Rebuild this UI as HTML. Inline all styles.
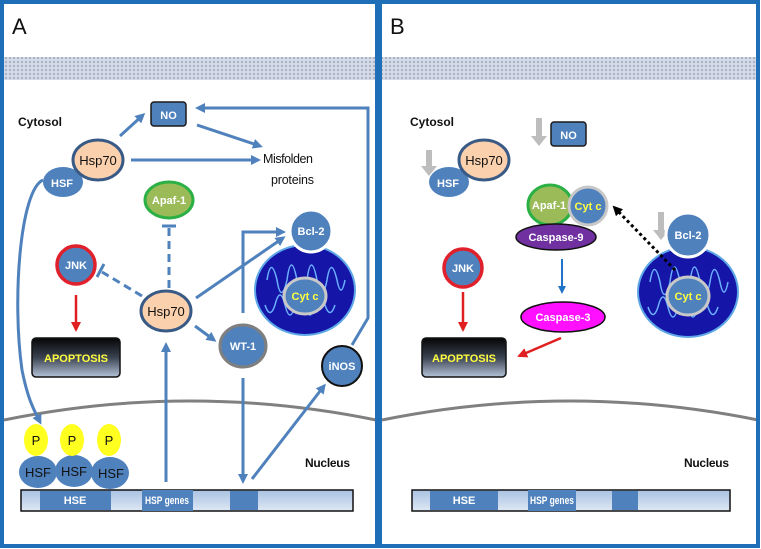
<!DOCTYPE html>
<html><head><meta charset="utf-8"><style>
html,body{margin:0;padding:0;background:#fff;}
svg{display:block;font-family:"Liberation Sans",sans-serif;}
.w{fill:#fff;font-weight:bold;font-size:11px;text-anchor:middle;}
.y{fill:#ffff40;font-weight:bold;font-size:11px;text-anchor:middle;}
.k{fill:#111;font-size:13px;text-anchor:middle;}
.bl{stroke:#4f81bd;stroke-width:3;fill:none;}
</style></head><body>
<svg width="761" height="549" viewBox="0 0 761 549" xmlns="http://www.w3.org/2000/svg">
<defs>
<pattern id="mem" width="4" height="4" patternUnits="userSpaceOnUse">
<rect width="4" height="4" fill="#d6dbe8"/><circle cx="2" cy="2" r="1.2" fill="#a9b1c9"/></pattern>
<linearGradient id="apg" x1="0" y1="0" x2="0" y2="1"><stop offset="0" stop-color="#050505"/><stop offset="0.5" stop-color="#3a4250"/><stop offset="1" stop-color="#b4c3d8"/></linearGradient>
<linearGradient id="gene" x1="0" y1="0" x2="0" y2="1"><stop offset="0" stop-color="#a9c1e2"/><stop offset="1" stop-color="#dfe8f5"/></linearGradient>
<marker id="ab" markerWidth="10" markerHeight="10" refX="7" refY="5" orient="auto" markerUnits="userSpaceOnUse"><path d="M0,0 L10,5 L0,10 z" fill="#4f81bd"/></marker>
<marker id="ar" markerWidth="10" markerHeight="10" refX="8" refY="5" orient="auto" markerUnits="userSpaceOnUse"><path d="M0,0 L10,5 L0,10 z" fill="#e02020"/></marker>
<marker id="ak" markerWidth="10" markerHeight="10" refX="8" refY="5" orient="auto" markerUnits="userSpaceOnUse"><path d="M0,0 L10,5 L0,10 z" fill="#000"/></marker>
<marker id="ac" markerWidth="8" markerHeight="8" refX="6" refY="4" orient="auto" markerUnits="userSpaceOnUse"><path d="M0,0 L8,4 L0,8 z" fill="#1f73c8"/></marker>
<g id="mito">
<ellipse cx="0" cy="0" rx="50" ry="45" fill="#1515a8" stroke="#5fa8e8" stroke-width="2"/>
<path d="M-38,-10 q4,-25 10,0 q4,25 10,0 q4,-30 10,0 q4,30 10,0 q4,-30 10,0 q4,30 10,0 q4,-25 10,0 q4,20 8,0 M-40,15 q5,15 10,0 q5,-20 10,0 q5,20 10,0 q5,-20 10,0 q5,20 10,0 q5,-20 10,0 q5,15 10,0" fill="none" stroke="#6cb0ff" stroke-width="1.5"/>
</g>
</defs>
<rect width="761" height="549" fill="#fff"/>

<rect x="4" y="57" width="372" height="23" fill="url(#mem)"/>
<rect x="382" y="57" width="376" height="23" fill="url(#mem)"/>
<path d="M4,420 Q190,382 376,420" fill="none" stroke="#808080" stroke-width="3"/>
<path d="M382,420 Q570,382 758,420" fill="none" stroke="#808080" stroke-width="3"/>

<rect x="2" y="2" width="375" height="544" fill="none" stroke="#1f6fb8" stroke-width="4"/>
<rect x="380" y="2" width="378" height="544" fill="none" stroke="#1f6fb8" stroke-width="4"/>

<!-- ===== Panel A ===== -->
<text x="12" y="34" font-size="22" fill="#111">A</text>
<text x="18" y="126" font-size="12" font-weight="bold" fill="#111" textLength="44">Cytosol</text>
<text x="305" y="467" font-size="12" font-weight="bold" fill="#111" textLength="45">Nucleus</text>

<line x1="120" y1="136" x2="143" y2="115" class="bl" marker-end="url(#ab)"/>
<line x1="197" y1="125" x2="260" y2="146" class="bl" marker-end="url(#ab)"/>
<line x1="131" y1="160" x2="258" y2="160" class="bl" marker-end="url(#ab)"/>
<polyline points="352,345 368,318 368,108 198,108" class="bl" marker-end="url(#ab)"/>
<path d="M43,180 C20,190 12,300 22,370 C28,400 34,410 40,422" class="bl" stroke-width="2" marker-end="url(#ab)"/>
<line x1="196" y1="298" x2="283" y2="238" class="bl" marker-end="url(#ab)"/>
<polyline points="243,313 243,232 283,232" class="bl" marker-end="url(#ab)"/>
<line x1="195" y1="326" x2="214" y2="340" class="bl" marker-end="url(#ab)"/>
<line x1="243" y1="378" x2="243" y2="481" class="bl" marker-end="url(#ab)"/>
<line x1="252" y1="479" x2="324" y2="386" class="bl" marker-end="url(#ab)"/>
<line x1="166" y1="482" x2="166" y2="345" class="bl" marker-end="url(#ab)"/>
<line x1="169" y1="288" x2="169" y2="228" class="bl" stroke-dasharray="8,5"/>
<line x1="162" y1="226" x2="176" y2="226" class="bl"/>
<line x1="142" y1="296" x2="102" y2="272" class="bl" stroke-dasharray="8,5"/>
<line x1="104" y1="264" x2="97" y2="277" class="bl"/>
<line x1="76" y1="295" x2="76" y2="330" stroke="#e02020" stroke-width="2.5" marker-end="url(#ar)"/>

<rect x="151" y="102" width="35" height="24" rx="3" fill="#4f81bd" stroke="#1a1a1a" stroke-width="1.5"/>
<text x="168.5" y="119" class="w" font-size="13">NO</text>
<ellipse cx="63" cy="182" rx="20" ry="15" fill="#4f81bd"/>
<text x="62" y="187" class="w">HSF</text>
<ellipse cx="98" cy="160" rx="25" ry="20" fill="#fbd0ad" stroke="#3a5a86" stroke-width="3"/>
<text x="98" y="165" class="k">Hsp70</text>
<text x="263" y="163" font-size="12.5" fill="#111" textLength="50">Misfolden</text>
<text x="271" y="184" font-size="12.5" fill="#111" textLength="43">proteins</text>
<ellipse cx="169" cy="200" rx="24" ry="18" fill="#9bbb59" stroke="#2ab045" stroke-width="3"/>
<text x="169" y="204" class="w">Apaf-1</text>
<circle cx="76" cy="265" r="19" fill="#4f81bd" stroke="#e0202a" stroke-width="3.5"/>
<text x="76" y="269" class="w">JNK</text>
<use href="#mito" x="305" y="290"/>
<circle cx="311" cy="231" r="21" fill="#4f81bd" stroke="#fff" stroke-width="3"/>
<text x="311" y="235" class="w">Bcl-2</text>
<ellipse cx="305" cy="296" rx="21" ry="18" fill="#4f81bd" stroke="#c8c8c8" stroke-width="3"/>
<text x="305" y="300" class="y">Cyt c</text>
<ellipse cx="166" cy="311" rx="25" ry="20" fill="#fbd0ad" stroke="#3a5a86" stroke-width="3"/>
<text x="166" y="316" class="k">Hsp70</text>
<ellipse cx="243" cy="346" rx="23" ry="21" fill="#4f81bd" stroke="#7f7f7f" stroke-width="3"/>
<text x="243" y="350" class="w">WT-1</text>
<circle cx="342" cy="366" r="20" fill="#4f81bd" stroke="#111" stroke-width="2"/>
<text x="342" y="370" class="w">iNOS</text>
<rect x="32" y="338" width="88" height="39" rx="4" fill="url(#apg)" stroke="#111" stroke-width="1.5"/>
<text x="76" y="362" class="y" font-size="12.5">APOPTOSIS</text>

<g>
<ellipse cx="38" cy="472" rx="19" ry="16" fill="#4f81bd"/>
<ellipse cx="74" cy="471" rx="19" ry="16" fill="#4f81bd"/>
<ellipse cx="110" cy="473" rx="19" ry="16" fill="#4f81bd"/>
<text x="38" y="477" class="k" font-size="12">HSF</text>
<text x="74" y="476" class="k" font-size="12">HSF</text>
<text x="111" y="478" class="k" font-size="12">HSF</text>
<ellipse cx="36" cy="440" rx="12" ry="16" fill="#ffff20"/>
<ellipse cx="72" cy="440" rx="12" ry="16" fill="#ffff20"/>
<ellipse cx="109" cy="440" rx="12" ry="16" fill="#ffff20"/>
<text x="36" y="445" class="k">P</text>
<text x="72" y="445" class="k">P</text>
<text x="109" y="445" class="k">P</text>
</g>

<rect x="21" y="490" width="332" height="21" fill="url(#gene)" stroke="#111" stroke-width="1.5"/>
<rect x="40" y="491" width="71" height="19" fill="#4f81bd"/>
<rect x="142" y="490" width="51" height="21" fill="#4f81bd"/>
<rect x="230" y="491" width="28" height="19" fill="#4f81bd"/>
<text x="75" y="504" class="w" font-size="10">HSE</text>
<text x="167" y="504" class="w" font-size="10" textLength="44" lengthAdjust="spacingAndGlyphs">HSP genes</text>

<!-- ===== Panel B ===== -->
<text x="390" y="34" font-size="22" fill="#111">B</text>
<text x="410" y="126" font-size="12" font-weight="bold" fill="#111" textLength="44">Cytosol</text>
<text x="684" y="467" font-size="12" font-weight="bold" fill="#111" textLength="45">Nucleus</text>

<g fill="#bdbdbd">
<path d="M536,118 h6 v18 h5 l-8,10 l-8,-10 h5 z"/>
<path d="M426,150 h6 v16 h5 l-8,10 l-8,-10 h5 z"/>
<path d="M658,212 h6 v18 h5 l-8,10 l-8,-10 h5 z"/>
</g>
<rect x="551" y="122" width="35" height="24" rx="3" fill="#4f81bd" stroke="#1a1a1a" stroke-width="1.5"/>
<text x="568.5" y="139" class="w" font-size="13">NO</text>
<ellipse cx="449" cy="182" rx="20" ry="15" fill="#4f81bd"/>
<text x="448" y="187" class="w">HSF</text>
<ellipse cx="484" cy="160" rx="25" ry="20" fill="#fbd0ad" stroke="#3a5a86" stroke-width="3"/>
<text x="484" y="165" class="k">Hsp70</text>

<use href="#mito" x="688" y="292"/>
<circle cx="688" cy="235" r="22" fill="#4f81bd" stroke="#fff" stroke-width="3"/>
<text x="688" y="239" class="w">Bcl-2</text>
<ellipse cx="688" cy="296" rx="21" ry="19" fill="#4f81bd" stroke="#c8c8c8" stroke-width="3"/>
<text x="688" y="300" class="y">Cyt c</text>
<line x1="675" y1="270" x2="614" y2="207" stroke="#000" stroke-width="3" stroke-dasharray="3,3" marker-end="url(#ak)"/>

<ellipse cx="550" cy="205" rx="22" ry="20" fill="#9bbb59" stroke="#2ab045" stroke-width="3"/>
<text x="549" y="209" class="w">Apaf-1</text>
<circle cx="588" cy="206" r="19" fill="#4f81bd" stroke="#c8c8c8" stroke-width="3"/>
<text x="588" y="210" class="y">Cyt c</text>
<ellipse cx="556" cy="237" rx="40" ry="13" fill="#7030a0" stroke="#111" stroke-width="1.5"/>
<text x="556" y="241" class="w">Caspase-9</text>
<line x1="562" y1="259" x2="562" y2="292" stroke="#1f73c8" stroke-width="2" marker-end="url(#ac)"/>
<ellipse cx="563" cy="317" rx="42" ry="15" fill="#ff10ff" stroke="#111" stroke-width="1.5"/>
<text x="563" y="321" class="w">Caspase-3</text>
<line x1="561" y1="338" x2="519" y2="356" stroke="#e02020" stroke-width="2.5" marker-end="url(#ar)"/>
<circle cx="463" cy="268" r="19" fill="#4f81bd" stroke="#e0202a" stroke-width="3.5"/>
<text x="463" y="272" class="w">JNK</text>
<line x1="463" y1="292" x2="463" y2="330" stroke="#e02020" stroke-width="2.5" marker-end="url(#ar)"/>
<rect x="422" y="338" width="84" height="39" rx="4" fill="url(#apg)" stroke="#111" stroke-width="1.5"/>
<text x="464" y="362" class="y" font-size="12.5">APOPTOSIS</text>

<rect x="412" y="490" width="318" height="21" fill="url(#gene)" stroke="#111" stroke-width="1.5"/>
<rect x="430" y="491" width="68" height="19" fill="#4f81bd"/>
<rect x="528" y="490" width="48" height="21" fill="#4f81bd"/>
<rect x="612" y="491" width="26" height="19" fill="#4f81bd"/>
<text x="464" y="504" class="w" font-size="10">HSE</text>
<text x="552" y="504" class="w" font-size="10" textLength="44" lengthAdjust="spacingAndGlyphs">HSP genes</text>
</svg>
</body></html>
